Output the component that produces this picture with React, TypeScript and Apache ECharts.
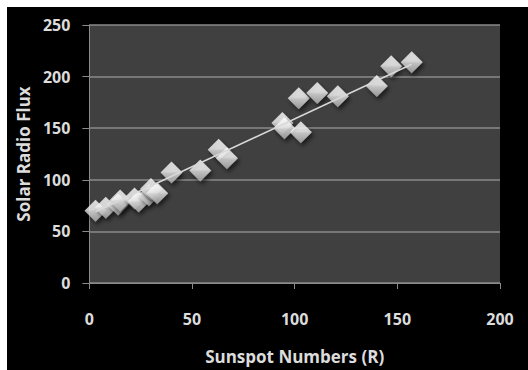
import React, { useEffect, useRef } from "react";
import * as echarts from "echarts";

const sunspotR = [3, 8, 14, 15, 22, 24, 29, 30, 33, 40, 54, 63, 67, 94, 95, 103, 102, 111, 121, 140, 147, 157];
const radioFlux = [70, 73, 76, 80, 82, 79, 85, 91, 87, 107, 109, 129, 121, 155, 150, 146, 179, 184, 181, 191, 210, 214];
const trendX = [3, 157];
const trendY = [69, 212];
const xTicks = [0, 50, 100, 150, 200];
const yTicks = [0, 50, 100, 150, 200, 250];

export default function App() {
  const ref = useRef<HTMLDivElement>(null);
  useEffect(() => {
    document.body.style.margin = "0";
    document.body.style.overflow = "hidden";
    const chart = echarts.init(ref.current!, undefined, { renderer: "svg" });
    const labelColor = "#dcdcdc";
    const font = "Open Sans";
    chart.setOption({
      animation: false,
      backgroundColor: "#000000",
      grid: { left: 82, top: 18, right: 28, bottom: 85, show: true, backgroundColor: "#404040", borderWidth: 0 },
      xAxis: {
        type: "value",
        min: xTicks[0],
        max: xTicks[xTicks.length - 1],
        interval: 50,
        name: "Sunspot Numbers (R)",
        nameLocation: "middle",
        nameGap: 65,
        nameTextStyle: { color: labelColor, fontWeight: "bold", fontSize: 17, fontFamily: font },
        axisLine: { show: true, lineStyle: { color: "#8a8a8a", width: 1 } },
        axisTick: { show: true, length: 6, lineStyle: { color: "#8a8a8a" } },
        axisLabel: { color: labelColor, fontWeight: "bold", fontSize: 16, fontFamily: font, margin: 28 },
        splitLine: { show: false },
      },
      yAxis: {
        type: "value",
        min: yTicks[0],
        max: yTicks[yTicks.length - 1],
        interval: 50,
        name: "Solar Radio Flux",
        nameLocation: "middle",
        nameGap: 57,
        nameRotate: 90,
        nameTextStyle: { color: labelColor, fontWeight: "bold", fontSize: 17, fontFamily: font },
        axisLine: { show: true, lineStyle: { color: "#8a8a8a", width: 1 } },
        axisTick: { show: true, length: 7, lineStyle: { color: "#8a8a8a" } },
        axisLabel: { color: labelColor, fontWeight: "bold", fontSize: 16, fontFamily: font, margin: 19 },
        splitLine: { show: true, lineStyle: { color: "#8a8a8a", width: 1.5 } },
      },
      series: [
        {
          type: "scatter",
          symbol: "diamond",
          symbolSize: [22, 22],
          data: sunspotR.map((x, i) => [x, radioFlux[i]]),
          itemStyle: {
            color: new echarts.graphic.LinearGradient(0, 0, 0, 1, [
              { offset: 0, color: "#ffffff" },
              { offset: 0.45, color: "#f4f4f4" },
              { offset: 0.55, color: "#dadada" },
              { offset: 1, color: "#a8a8a8" },
            ]),
            shadowColor: "rgba(0,0,0,0.7)",
            shadowBlur: 4,
            shadowOffsetX: 2,
            shadowOffsetY: 3,
          },
          z: 2,
        },
        {
          type: "line",
          data: trendX.map((x, i) => [x, trendY[i]]),
          symbol: "none",
          lineStyle: { color: "#d8d8d8", width: 1.5 },
          z: 3,
        },
      ],
    });
    return () => chart.dispose();
  }, []);
  return (
    <div style={{ position: "fixed", left: 0, top: 0, width: 528, height: 370, background: "#ffffff" }}>
      <div ref={ref} style={{ position: "absolute", left: 7, top: 7, width: 521, height: 363 }} />
    </div>
  );
}
